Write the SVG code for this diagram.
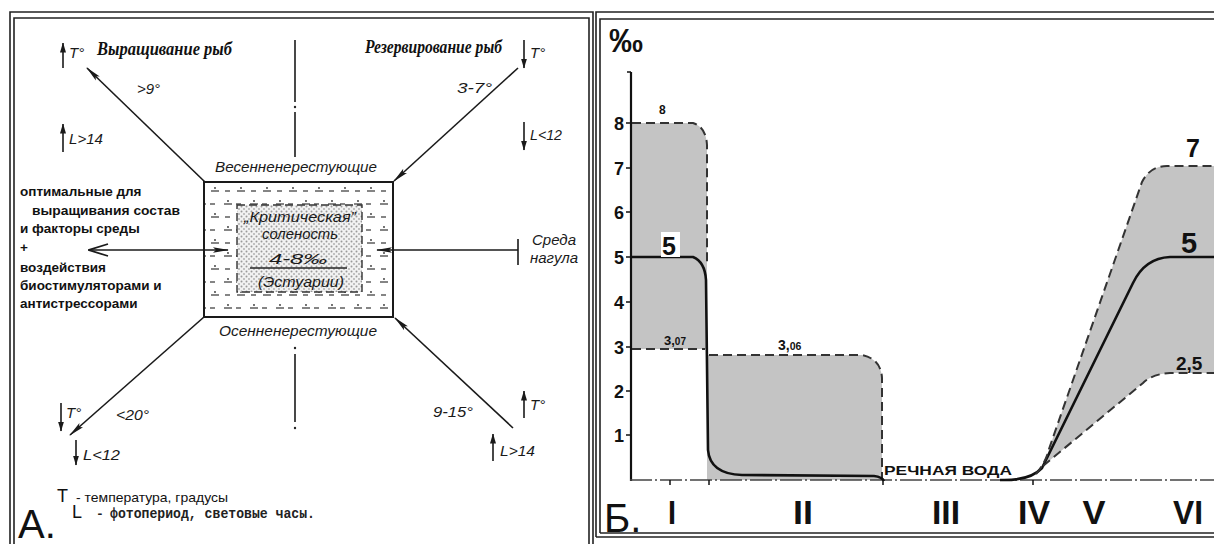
<svg xmlns="http://www.w3.org/2000/svg" width="1214" height="544" viewBox="0 0 1214 544">
<defs>
<style>
.it{font-family:"Liberation Sans",Arial,sans-serif;font-style:italic;font-size:15px;fill:#1a1a1a}
.ttl{font-family:"Liberation Serif","Times New Roman",serif;font-style:italic;font-weight:bold;font-size:19px;fill:#111}
.bl{font-family:"Liberation Sans",Arial,sans-serif;font-weight:bold;font-size:13.5px;fill:#111}
.ln{stroke:#1a1a1a;stroke-width:1.6;fill:none}
.fr{stroke:#222;stroke-width:1.6;fill:none}
.num{font-family:"Liberation Sans",Arial,sans-serif;font-weight:bold;fill:#111}
.dash{stroke:#333;stroke-width:2;fill:none;stroke-dasharray:9 5}
.sol{stroke:#111;stroke-width:2.6;fill:none}
.gray{fill:#c4c4c4;stroke:none}
</style>
<marker id="ah" viewBox="0 0 16 8" refX="15" refY="4" markerWidth="16" markerHeight="8" markerUnits="userSpaceOnUse" orient="auto">
<path d="M0,1.2 L16,4 L0,6.8 L3,4 Z" fill="#1a1a1a"/>
</marker>
<marker id="ahs" viewBox="0 0 10 7" refX="9.5" refY="3.5" markerWidth="10" markerHeight="7" markerUnits="userSpaceOnUse" orient="auto">
<path d="M0,0.5 L10,3.5 L0,6.5 Z" fill="#1a1a1a"/>
</marker>
<marker id="ahopen" viewBox="0 0 22 14" refX="1" refY="7" markerWidth="22" markerHeight="14" markerUnits="userSpaceOnUse" orient="auto">
<path d="M20,1 L1,7 L20,13" fill="none" stroke="#1a1a1a" stroke-width="1.8"/>
</marker>
<pattern id="water" width="26" height="26" patternUnits="userSpaceOnUse">
<rect width="26" height="26" fill="#fff"/>
<line x1="3" y1="9" x2="11" y2="9" stroke="#333" stroke-width="1.2"/>
<circle cx="7" cy="6" r="0.9" fill="#333"/>
<line x1="16" y1="22" x2="24" y2="22" stroke="#333" stroke-width="1.2"/>
<circle cx="20" cy="19" r="0.9" fill="#333"/>
<line x1="17" y1="9" x2="22" y2="9" stroke="#333" stroke-width="1.2"/>
<line x1="2" y1="22" x2="7" y2="22" stroke="#333" stroke-width="1.2"/>
</pattern>
<pattern id="dots" width="5" height="5" patternUnits="userSpaceOnUse">
<rect width="5" height="5" fill="#f2f2f2"/>
<circle cx="1.5" cy="1.5" r="1" fill="#9a9a9a"/>
<circle cx="4" cy="4" r="0.9" fill="#aaa"/>
</pattern>
</defs>
<rect width="1214" height="544" fill="#fff"/>

<g id="frameA">
<path class="fr" d="M10,560 V12 H593 V560"/>
<path class="fr" d="M14,560 V18 H589 V560"/>
</g>
<g id="frameB">
<path class="fr" d="M596,537 V12 H1220"/>
<path class="fr" d="M600,533 V19 H1220"/>
<path class="fr" d="M596,537 H1220"/>
<path class="fr" d="M600,533 H1220"/>
</g>

<g id="axisA">
<line x1="295" y1="40" x2="295" y2="102" class="ln" stroke-width="1.3"/>
<circle cx="295" cy="107" r="1.2" fill="#222"/>
<line x1="295" y1="112" x2="295" y2="157" class="ln" stroke-width="1.3"/>
<circle cx="295" cy="348" r="1.2" fill="#222"/>
<line x1="295" y1="354" x2="295" y2="422" class="ln" stroke-width="1.3"/>
<circle cx="295" cy="428" r="1.2" fill="#222"/>
</g>

<g id="box">
<rect x="204" y="182" width="189" height="135" fill="url(#water)" stroke="#1a1a1a" stroke-width="2"/>
<rect x="237" y="205" width="125" height="87" fill="url(#dots)" stroke="#333" stroke-width="1.4" stroke-dasharray="8 4"/>
<text class="it" x="300" y="222" text-anchor="middle" font-size="16" textLength="112" lengthAdjust="spacingAndGlyphs">„Критическая”</text>
<text class="it" x="300" y="239" text-anchor="middle" font-size="16" textLength="76" lengthAdjust="spacingAndGlyphs">соленость</text>
<text class="it" x="298" y="264" text-anchor="middle" font-size="23" font-style="normal" textLength="58" lengthAdjust="spacingAndGlyphs">4-8‰</text>
<line x1="250" y1="268" x2="347" y2="268" stroke="#222" stroke-width="1.3"/>
<text class="it" x="301" y="287" text-anchor="middle" font-size="15" textLength="86" lengthAdjust="spacingAndGlyphs">(Эстуарии)</text>
</g>

<g id="labelsBox">
<text class="it" x="296" y="172" text-anchor="middle" font-size="16" textLength="162" lengthAdjust="spacingAndGlyphs">Весенненерестующие</text>
<text class="it" x="298" y="336" text-anchor="middle" font-size="16" textLength="158" lengthAdjust="spacingAndGlyphs">Осенненерестующие</text>
</g>

<g id="connectors">
<line class="ln" x1="205" y1="182" x2="87" y2="68" marker-end="url(#ah)"/>
<line class="ln" x1="518" y1="68" x2="394" y2="181" marker-end="url(#ah)"/>
<line class="ln" x1="204" y1="317" x2="70" y2="435" marker-end="url(#ah)"/>
<line class="ln" x1="513" y1="428" x2="395" y2="318" marker-end="url(#ah)"/>
<line class="ln" x1="89" y1="250" x2="228" y2="250" marker-start="url(#ahopen)" marker-end="url(#ah)"/>
<line class="ln" x1="518" y1="250" x2="377" y2="250" marker-end="url(#ah)"/>
<line class="ln" x1="518" y1="239" x2="518" y2="265" stroke-width="2"/>
</g>

<g id="growing">
<text class="ttl" x="97" y="55" textLength="135" lengthAdjust="spacingAndGlyphs">Выращивание рыб</text>
<line class="ln" x1="63" y1="68" x2="63" y2="43" marker-end="url(#ahs)"/>
<text class="it" x="69" y="58">T°</text>
<text class="it" x="137" y="94">&gt;9°</text>
<line class="ln" x1="63" y1="152" x2="63" y2="124" marker-end="url(#ahs)"/>
<text class="it" x="69" y="144" textLength="34" lengthAdjust="spacingAndGlyphs">L&gt;14</text>
</g>

<g id="reserving">
<text class="ttl" x="365" y="53" font-size="18" textLength="137" lengthAdjust="spacingAndGlyphs">Резервирование рыб</text>
<line class="ln" x1="524" y1="40" x2="524" y2="68" marker-end="url(#ahs)"/>
<text class="it" x="530" y="58">T°</text>
<text class="it" x="457" y="93" textLength="35" lengthAdjust="spacingAndGlyphs">3-7°</text>
<line class="ln" x1="524" y1="122" x2="524" y2="150" marker-end="url(#ahs)"/>
<text class="it" x="530" y="140" textLength="32" lengthAdjust="spacingAndGlyphs">L&lt;12</text>
</g>

<g id="autumnLeft">
<line class="ln" x1="61" y1="403" x2="61" y2="431" marker-end="url(#ahs)"/>
<text class="it" x="66" y="418">T°</text>
<text class="it" x="116" y="420" textLength="33" lengthAdjust="spacingAndGlyphs">&lt;20°</text>
<line class="ln" x1="76" y1="440" x2="76" y2="465" marker-end="url(#ahs)"/>
<text class="it" x="83" y="460" textLength="37" lengthAdjust="spacingAndGlyphs">L&lt;12</text>
</g>

<g id="autumnRight">
<text class="it" x="433" y="417" textLength="40" lengthAdjust="spacingAndGlyphs">9-15°</text>
<line class="ln" x1="524" y1="418" x2="524" y2="391" marker-end="url(#ahs)"/>
<text class="it" x="530" y="410">T°</text>
<line class="ln" x1="493" y1="461" x2="493" y2="434" marker-end="url(#ahs)"/>
<text class="it" x="500" y="456" textLength="35" lengthAdjust="spacingAndGlyphs">L&gt;14</text>
</g>

<g id="feeding">
<text class="it" x="554" y="245" text-anchor="middle" font-size="15.5">Среда</text>
<text class="it" x="554" y="263" text-anchor="middle" font-size="15.5">нагула</text>
</g>

<g id="optimal">
<text class="bl" x="20" y="196">оптимальные для</text>
<text class="bl" x="32" y="215" textLength="148" lengthAdjust="spacingAndGlyphs">выращивания состав</text>
<text class="bl" x="20" y="233">и факторы среды</text>
<text class="bl" x="20" y="252">+</text>
<text class="bl" x="20" y="272">воздействия</text>
<text class="bl" x="20" y="290">биостимуляторами и</text>
<text class="bl" x="20" y="308">антистрессорами</text>
</g>

<g id="legend">
<text x="57" y="502" font-family="'Liberation Sans',Arial,sans-serif" font-size="18" fill="#111">T</text>
<text x="76" y="502" font-family="'Liberation Sans',Arial,sans-serif" font-size="13.5" fill="#111" textLength="152" lengthAdjust="spacingAndGlyphs">- температура, градусы</text>
<text x="72" y="518" font-family="'Liberation Sans',Arial,sans-serif" font-size="18" fill="#111">L</text>
<text x="96" y="518" font-family="'Liberation Mono','Courier New',monospace" font-size="13" font-weight="bold" fill="#222">-</text>
<text x="110" y="518" font-family="'Liberation Mono','Courier New',monospace" font-size="14" font-weight="bold" fill="#222" textLength="205" lengthAdjust="spacingAndGlyphs">фотопериод, световые часы.</text>
<text x="18" y="538" font-family="'Liberation Sans',Arial,sans-serif" font-size="40" fill="#111">А.</text>
</g>

<g id="chartFills">
<path class="gray" d="M632,123 L693,123 Q706,127 707,145 L707,349 L632,349 Z"/>
<path class="gray" d="M707,355 L862,355 Q881,359 882,378 L882,480 L707,480 Z"/>
<path class="gray" d="M1036,474 Q1046,462 1049,449 L1142,182 Q1150,166 1167,166 L1214,166 L1214,373 L1170,373 Q1152,374 1143,383 L1043,466 Z"/>
</g>

<g id="chartAxes">
<line x1="631" y1="72" x2="631" y2="481" stroke="#111" stroke-width="2.2"/>
<line x1="627" y1="72" x2="631" y2="72" stroke="#111" stroke-width="1.5"/>
<line x1="630" y1="480" x2="1214" y2="480" stroke="#444" stroke-width="1.6" stroke-dasharray="22 3 2 3"/>
<g stroke="#111" stroke-width="1.5">
<line x1="626" y1="123" x2="631" y2="123"/>
<line x1="626" y1="168" x2="631" y2="168"/>
<line x1="626" y1="212" x2="631" y2="212"/>
<line x1="626" y1="257" x2="631" y2="257"/>
<line x1="626" y1="302" x2="631" y2="302"/>
<line x1="626" y1="347" x2="631" y2="347"/>
<line x1="626" y1="391" x2="631" y2="391"/>
<line x1="626" y1="435" x2="631" y2="435"/>
<line x1="670" y1="480" x2="670" y2="485"/>
<line x1="709" y1="480" x2="709" y2="485"/>
<line x1="883" y1="480" x2="883" y2="485"/>
<line x1="1033" y1="480" x2="1033" y2="485"/>
</g>
<g class="num" font-size="18" text-anchor="end">
<text x="624" y="130">8</text>
<text x="624" y="175">7</text>
<text x="624" y="219">6</text>
<text x="624" y="264">5</text>
<text x="624" y="309">4</text>
<text x="624" y="354">3</text>
<text x="624" y="398">2</text>
<text x="624" y="442">1</text>
</g>
<text class="num" x="609" y="52" font-size="34">‰</text>
</g>

<g id="chartLines">
<path class="dash" d="M632,123 L693,123 Q706,127 707,145 L707,262"/>
<line class="dash" x1="632" y1="349" x2="705" y2="349" stroke-dasharray="14 4 3 4" stroke-width="1.6"/>
<path class="dash" d="M709,355 L862,355 Q881,359 882,378 L882,478" stroke-dasharray="14 4 3 4" stroke-width="1.8"/>
<path class="sol" d="M632,257 L693,257 Q705,262 706,280 L708,450 Q710,474 742,475 L874,476 Q882,477 884,481"/>
<path class="sol" d="M1000,480 Q1030,481 1042,468 L1133,283 Q1145,258 1170,257 L1214,257"/>
<path class="dash" d="M1036,474 Q1046,462 1049,449 L1142,182 Q1150,166 1167,166 L1214,166"/>
<path class="dash" d="M1043,466 L1143,383 Q1152,374 1170,373 L1214,373" stroke-width="1.8"/>
</g>

<g id="chartLabels">
<text class="num" x="659" y="114" font-size="12">8</text>
<rect x="661" y="232" width="19" height="25" fill="#fff"/>
<text class="num" x="662" y="255" font-size="25">5</text>
<text class="num" x="664" y="345" font-size="13">3,<tspan font-size="10">07</tspan></text>
<text class="num" x="778" y="350" font-size="14">3,<tspan font-size="10.5">06</tspan></text>
<text class="num" x="884" y="475" font-size="13.5" textLength="128" lengthAdjust="spacingAndGlyphs">РЕЧНАЯ ВОДА</text>
<text class="num" x="1186" y="157" font-size="25">7</text>
<text class="num" x="1181" y="253" font-size="29">5</text>
<text class="num" x="1176" y="370" font-size="19">2,5</text>
</g>

<g id="chartZones">
<text x="604" y="532" font-family="'Liberation Sans',Arial,sans-serif" font-size="40" fill="#111">Б.</text>
<g class="num" font-size="34" text-anchor="middle">
<text x="672" y="524" textLength="8" lengthAdjust="spacingAndGlyphs">I</text>
<text x="803" y="524" textLength="20" lengthAdjust="spacingAndGlyphs">II</text>
<text x="946" y="524" textLength="28" lengthAdjust="spacingAndGlyphs">III</text>
<text x="1034" y="524" textLength="32" lengthAdjust="spacingAndGlyphs">IV</text>
<text x="1094" y="524" textLength="23" lengthAdjust="spacingAndGlyphs">V</text>
<text x="1188" y="524" textLength="30" lengthAdjust="spacingAndGlyphs">VI</text>
</g>
</g>
</svg>
